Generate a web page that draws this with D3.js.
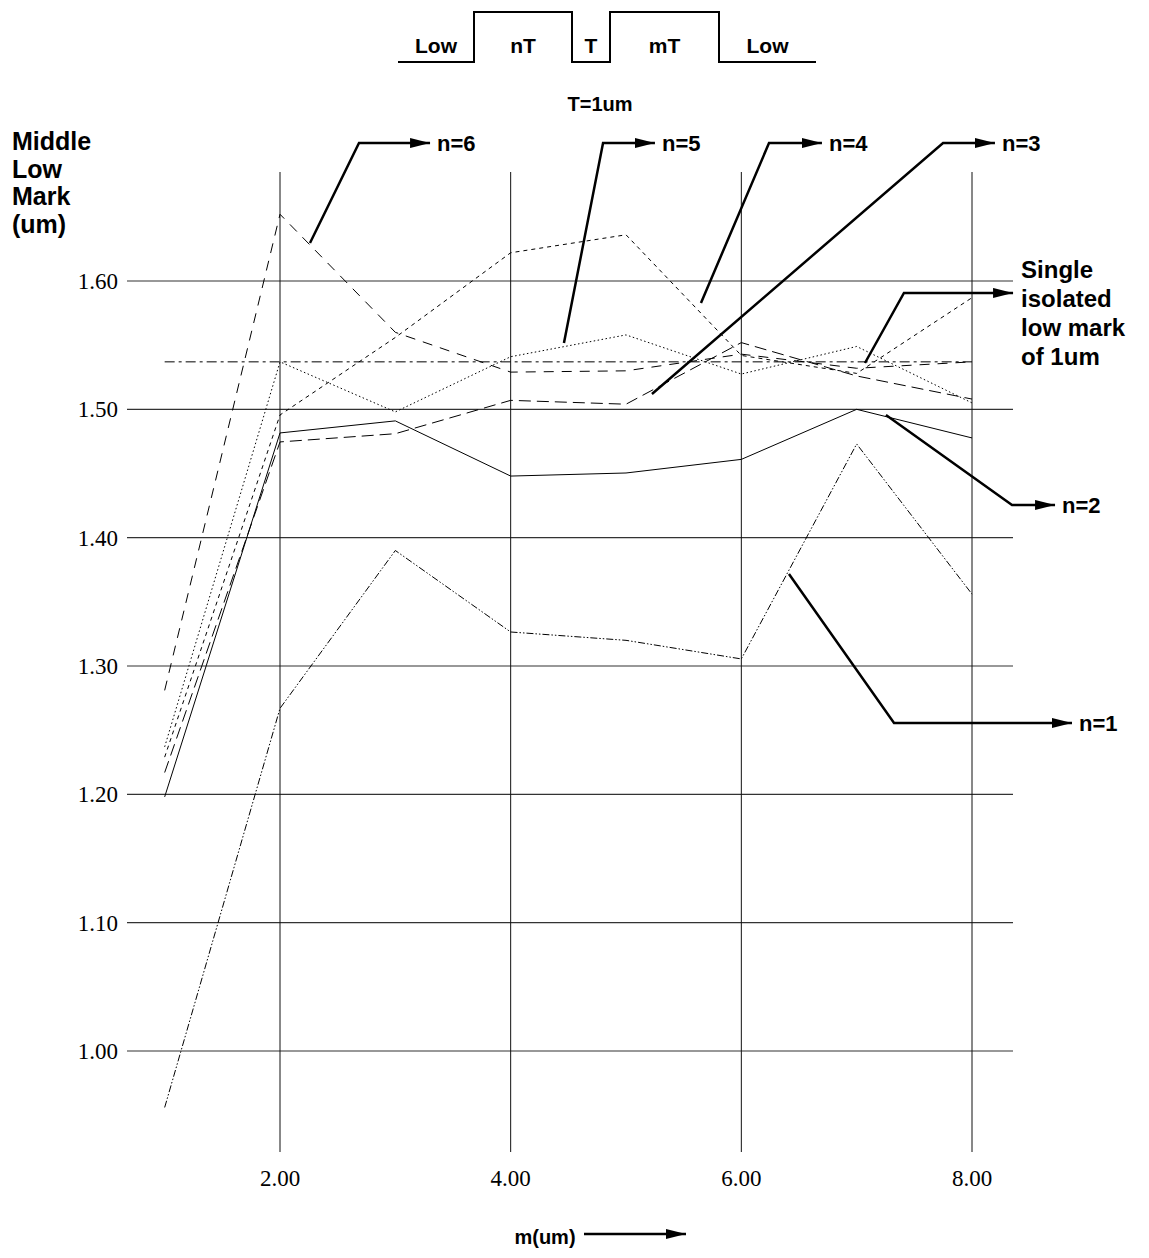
<!DOCTYPE html>
<html>
<head>
<meta charset="utf-8">
<script src="https://cdn.jsdelivr.net/npm/d3@7"></script>
<style>
  body { margin: 0; background: #fff; }
  svg { display: block; }
</style>
</head>
<body>
<div id="chart"></div>
<script>
// data
const mValues = [1, 2, 3, 4, 5, 6, 7, 8];
const n1 = [0.956, 1.267, 1.390, 1.3265, 1.320, 1.3055, 1.473, 1.356];
const n2 = [1.198, 1.4816, 1.491, 1.448, 1.4504, 1.461, 1.500, 1.4777];
const n3 = [1.217, 1.4746, 1.481, 1.507, 1.504, 1.552, 1.526, 1.508];
const n4 = [1.229, 1.4956, 1.556, 1.622, 1.636, 1.542, 1.528, 1.587];
const n5 = [1.237, 1.537, 1.498, 1.541, 1.558, 1.5275, 1.549, 1.505];
const n6 = [1.281, 1.652, 1.560, 1.529, 1.530, 1.543, 1.532, 1.537];
const single = [1.537, 1.537, 1.537, 1.537, 1.537, 1.537, 1.537, 1.537];

const yTicks = [1.0, 1.1, 1.2, 1.3, 1.4, 1.5, 1.6];
const xTicks = [2, 4, 6, 8];

// callouts: anchor on a curve, knee, arrow tip (data units)
const callouts = [
  { label: ["n=6"], pts: [[2.26, 1.6296], [2.685, 1.7075], [3.301, 1.7075]] },
  { label: ["n=5"], pts: [[4.462, 1.5517], [4.801, 1.7075], [5.251, 1.7075]] },
  { label: ["n=4"], pts: [[5.65, 1.5829], [6.24, 1.7075], [6.699, 1.7075]] },
  { label: ["n=3"], pts: [[5.225, 1.512], [7.749, 1.7075], [8.199, 1.7075]] },
  { label: ["Single", "isolated", "low mark", "of 1um"], pts: [[7.072, 1.5361], [7.41, 1.5907], [8.356, 1.5907]] },
  { label: ["n=2"], pts: [[7.254, 1.4956], [8.347, 1.4255], [8.72, 1.4255]] },
  { label: ["n=1"], pts: [[6.413, 1.3717], [7.324, 1.2556], [8.867, 1.2556]] },
];

const pulse = [
  { label: "Low", level: 0, w: 76 },
  { label: "nT", level: 1, w: 98 },
  { label: "T", level: 0, w: 38 },
  { label: "mT", level: 1, w: 109 },
  { label: "Low", level: 0, w: 97 },
];

const series = [
  { values: n1, dash: "7,2,1.5,2,1.5,2" },
  { values: n2, dash: null },
  { values: n3, dash: "12,6" },
  { values: n4, dash: "4,4" },
  { values: n5, dash: "1.5,2.5" },
  { values: n6, dash: "10,8" },
  { values: single, dash: "10,4,3,4" },
];

const W = 1149, H = 1258;
const sans = "'Liberation Sans', Arial, sans-serif";
const serif = "'Liberation Serif', 'Times New Roman', serif";

const svg = d3.select("#chart").append("svg")
  .attr("width", W).attr("height", H)
  .attr("viewBox", `0 0 ${W} ${H}`);

svg.append("defs").append("marker")
  .attr("id", "head")
  .attr("viewBox", "0 0 20 10")
  .attr("refX", 20).attr("refY", 5)
  .attr("markerWidth", 20).attr("markerHeight", 10)
  .attr("markerUnits", "userSpaceOnUse")
  .attr("orient", "auto")
  .append("path").attr("d", "M0,0L20,5L0,10Z").attr("fill", "#000");

const x = d3.scaleLinear().domain([2, 8]).range([280, 972]);
const y = d3.scaleLinear().domain([1.0, 1.6]).range([1051, 281]);

// grid
svg.append("g").selectAll("line").data(yTicks).join("line")
  .attr("x1", 127).attr("x2", 1013)
  .attr("y1", d => y(d)).attr("y2", d => y(d))
  .attr("stroke", "#333").attr("stroke-width", 1.2);

svg.append("g").selectAll("line").data(xTicks).join("line")
  .attr("x1", d => x(d)).attr("x2", d => x(d))
  .attr("y1", 172).attr("y2", 1152)
  .attr("stroke", "#111").attr("stroke-width", 1);

// tick labels
svg.append("g").selectAll("text").data(yTicks).join("text")
  .attr("x", 118).attr("y", d => y(d) + 8)
  .attr("text-anchor", "end")
  .attr("font-family", serif).attr("font-size", 23)
  .text(d => d.toFixed(2));

svg.append("g").selectAll("text").data(xTicks).join("text")
  .attr("x", d => x(d)).attr("y", 1186)
  .attr("text-anchor", "middle")
  .attr("font-family", serif).attr("font-size", 23)
  .text(d => d.toFixed(2));

// series
const line = d3.line().x((d, i) => x(mValues[i])).y(d => y(d));
svg.append("g").selectAll("path").data(series).join("path")
  .attr("d", d => line(d.values))
  .attr("fill", "none")
  .attr("stroke", "#000")
  .attr("stroke-width", 1)
  .attr("stroke-dasharray", d => d.dash);

// callouts
callouts.forEach(c => {
  const p = c.pts.map(([a, b]) => [x(a), y(b)]);
  svg.append("path")
    .attr("d", d3.line()(p))
    .attr("fill", "none").attr("stroke", "#000")
    .attr("stroke-width", 2.5)
    .attr("marker-end", "url(#head)");
  const tip = p[p.length - 1];
  const multi = c.label.length > 1;
  svg.append("text")
    .attr("y", multi ? tip[1] - 15 : tip[1] + 8)
    .attr("font-family", sans).attr("font-weight", "bold")
    .attr("font-size", multi ? 24 : 22)
    .selectAll("tspan").data(c.label).join("tspan")
    .attr("x", tip[0] + (multi ? 8 : 7))
    .attr("dy", (d, i) => i === 0 ? 0 : 29)
    .text(d => d);
});

// y axis title
svg.append("text")
  .attr("font-family", sans).attr("font-weight", "bold").attr("font-size", 25)
  .selectAll("tspan").data(["Middle", "Low", "Mark", "(um)"]).join("tspan")
  .attr("x", 12).attr("y", (d, i) => 150 + i * 27.5)
  .text(d => d);

// x axis title
svg.append("text")
  .attr("x", 545).attr("y", 1244)
  .attr("text-anchor", "middle")
  .attr("font-family", sans).attr("font-weight", "bold").attr("font-size", 20)
  .text("m(um)");
svg.append("line")
  .attr("x1", 584).attr("x2", 686).attr("y1", 1234).attr("y2", 1234)
  .attr("stroke", "#000").attr("stroke-width", 2.5)
  .attr("marker-end", "url(#head)");

// pulse diagram
const lowY = 62, highY = 12;
let px = 398;
const pts = [];
pulse.forEach(s => {
  const yy = s.level ? highY : lowY;
  pts.push([px, yy]);
  s.cx = px + s.w / 2;
  px += s.w;
  pts.push([px, yy]);
});
svg.append("path")
  .attr("d", d3.line()(pts))
  .attr("fill", "none").attr("stroke", "#000").attr("stroke-width", 2);
svg.append("g").selectAll("text").data(pulse).join("text")
  .attr("x", d => d.cx).attr("y", 53)
  .attr("text-anchor", "middle")
  .attr("font-family", sans).attr("font-weight", "bold").attr("font-size", 21)
  .text(d => d.label);
svg.append("text")
  .attr("x", 600).attr("y", 111)
  .attr("text-anchor", "middle")
  .attr("font-family", sans).attr("font-weight", "bold").attr("font-size", 20)
  .text("T=1um");
</script>
</body>
</html>
